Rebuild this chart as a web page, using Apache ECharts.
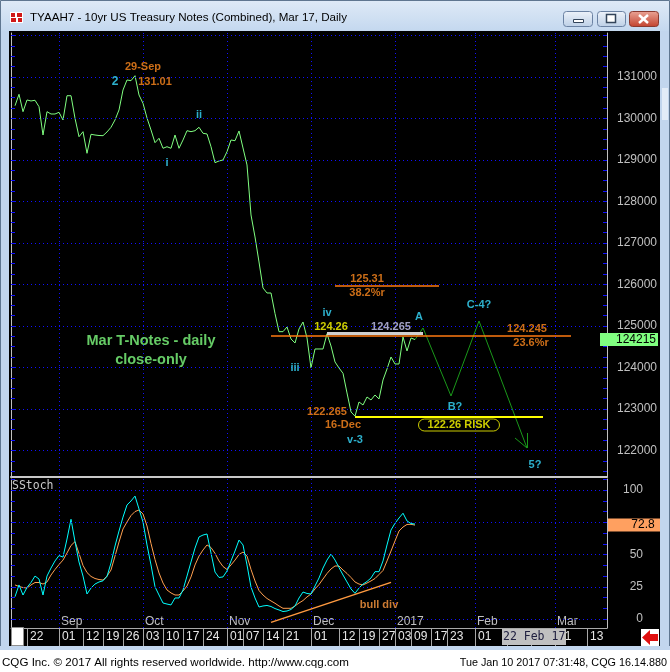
<!DOCTYPE html>
<html><head><meta charset="utf-8">
<script src="https://cdn.jsdelivr.net/npm/echarts@6/dist/echarts.min.js"></script>
<style>html,body{margin:0;padding:0;background:#000;overflow:hidden}#c{width:670px;height:672px}</style>
</head><body><div id="c"></div>
<script>
// ---------- DATA ----------
const categories = [
'2016-08-16','2016-08-17','2016-08-18','2016-08-19','2016-08-22','2016-08-23','2016-08-24','2016-08-25','2016-08-26','2016-08-29','2016-08-30','2016-08-31',
'2016-09-01','2016-09-02','2016-09-06','2016-09-07','2016-09-08','2016-09-09','2016-09-12','2016-09-13','2016-09-14','2016-09-15','2016-09-16','2016-09-19','2016-09-20','2016-09-21','2016-09-22','2016-09-23','2016-09-26','2016-09-27','2016-09-28','2016-09-29','2016-09-30',
'2016-10-03','2016-10-04','2016-10-05','2016-10-06','2016-10-07','2016-10-10','2016-10-11','2016-10-12','2016-10-13','2016-10-14','2016-10-17','2016-10-18','2016-10-19','2016-10-20','2016-10-21','2016-10-24','2016-10-25','2016-10-26','2016-10-27','2016-10-28','2016-10-31',
'2016-11-01','2016-11-02','2016-11-03','2016-11-04','2016-11-07','2016-11-08','2016-11-09','2016-11-10','2016-11-11','2016-11-14','2016-11-15','2016-11-16','2016-11-17','2016-11-18','2016-11-21','2016-11-22','2016-11-23','2016-11-25','2016-11-28','2016-11-29','2016-11-30',
'2016-12-01','2016-12-02','2016-12-05','2016-12-06','2016-12-07','2016-12-08','2016-12-09','2016-12-12','2016-12-13','2016-12-14','2016-12-15','2016-12-16','2016-12-19','2016-12-20','2016-12-21','2016-12-22','2016-12-23','2016-12-27','2016-12-28','2016-12-29','2016-12-30',
'2017-01-03','2017-01-04','2017-01-05','2017-01-06','2017-01-09','2017-01-10','2017-01-11','2017-01-12','2017-01-13','2017-01-17','2017-01-18','2017-01-19','2017-01-20','2017-01-23','2017-01-24','2017-01-25','2017-01-26','2017-01-27','2017-01-30','2017-01-31',
'2017-02-01','2017-02-02','2017-02-03','2017-02-06','2017-02-07','2017-02-08','2017-02-09','2017-02-10','2017-02-13','2017-02-14','2017-02-15','2017-02-16','2017-02-17','2017-02-20','2017-02-21','2017-02-22','2017-02-23','2017-02-24','2017-02-27','2017-02-28',
'2017-03-01','2017-03-02','2017-03-03','2017-03-06','2017-03-07','2017-03-08','2017-03-09','2017-03-10','2017-03-13','2017-03-14','2017-03-15','2017-03-16','2017-03-17','2017-03-20'
];

// daily closes, 2016-08-17 .. 2017-01-10 (decimal points)
const closes = [
130.308,130.583,130.164,130.446,130.422,130.439,130.284,129.602,130.164,130.108,
130.108,130.149,129.964,130.549,130.549,130.005,129.561,129.682,129.161,129.619,
129.602,129.590,129.586,129.675,129.788,129.964,130.205,130.687,130.928,130.911,
131.031,130.566,130.366,130.012,129.723,129.417,129.523,129.282,129.320,129.282,
129.602,129.282,129.482,129.706,129.682,129.706,129.788,129.643,129.627,129.320,
128.935,128.976,129.000,129.200,129.482,129.465,129.699,129.289,128.880,127.675,
127.145,126.542,125.916,125.795,125.795,125.300,124.863,124.863,124.976,124.687,
124.590,124.928,125.096,124.711,123.990,124.446,124.446,124.446,124.8125,124.518,
124.133,123.988,123.860,123.386,122.928,122.828,123.169,123.096,123.289,123.217,
123.337,123.241,123.699,123.964,124.253,124.084,124.084,124.735,124.398,124.711,
124.672
];
// slow stochastic, same dates
const stochK = [
17.3,26.4,18.6,24.5,28.3,33.3,31.0,18.6,33.3,39.5,
45.0,49.2,48.0,62.0,77.3,60.0,44.2,33.3,19.4,24.0,
27.1,28.7,29.6,33.0,43.4,56.6,68.2,79.0,88.4,91.5,
95.3,85.3,75.2,57.4,41.9,25.0,18.6,12.4,11.6,10.9,
16.3,16.3,22.5,33.3,44.2,55.0,63.6,65.1,65.9,51.2,
36.4,32.2,32.6,37.2,45.0,52.7,61.2,57.4,41.9,24.8,
16.3,9.3,10.1,10.5,9.7,8.1,7.0,5.8,6.2,7.4,
10.1,16.3,20.9,19.8,19.4,25.6,31.8,39.5,45.7,50.4,
45.7,39.9,34.1,28.7,23.3,19.9,24.0,27.1,29.1,31.8,
36.7,36.7,45.0,57.4,69.0,74.2,78.3,82.0,76.0,74.0,73.6
];
const stochD = [
26.4,25.2,24.4,24.0,26.4,28.3,28.3,27.1,28.7,34.1,
38.4,42.2,45.7,51.2,57.0,60.0,50.8,41.5,36.0,33.0,
31.4,30.6,30.2,33.3,38.0,48.8,59.7,69.8,75.2,80.2,
83.3,84.5,81.4,72.1,58.5,46.1,35.7,27.9,22.5,20.2,
18.6,18.6,21.7,25.6,32.6,41.9,48.8,53.5,57.4,55.4,
50.9,45.0,40.7,38.4,41.9,45.7,50.0,51.9,48.8,38.4,
29.5,22.1,18.6,15.9,14.0,12.2,10.1,8.3,8.3,8.3,
10.1,12.4,14.3,17.1,19.4,23.3,26.7,31.0,35.3,38.8,
41.1,41.1,38.0,35.3,32.2,28.7,27.1,26.4,27.9,29.5,
31.4,34.5,37.6,45.0,52.7,60.5,68.2,71.3,73.3,73.4,72.8
];

// projected wave path
const projDates  = ['2017-01-10','2017-01-12','2017-01-24','2017-02-02','2017-02-20'];
const projValues = [124.672, 124.952, 123.313, 125.120, 122.060];
const arrowFrom  = [['2017-02-15',122.301],['2017-02-20',122.422]];
const arrowTip   = ['2017-02-20',122.060];

// horizontal levels
const levelValues = [125.96875, 124.765625, 124.82, 122.8125];
const levelFrom   = ['2016-12-09','2016-11-16','2016-12-07','2016-12-16'];
const levelTo     = ['2017-01-19','2017-03-07','2017-01-12','2017-02-24'];

// bull divergence line on stochastic
const divFrom = ['2016-11-16', -2.6];
const divTo   = ['2016-12-30', 28.4];

// axis ticks
const priceTicks = [122,123,124,125,126,127,128,129,130,131];
const priceGrid  = [122,123,124,125,126,127,128,129,130,131,132];
const stochTicks = [0,25,50,100];
const stochGrid  = [0,25,50,75,100];
const monthStarts = ['2016-09-01','2016-10-03','2016-11-01','2016-12-01','2017-01-03','2017-02-01','2017-03-01'];
const monthNames  = ['Sep','Oct','Nov','Dec','2017','Feb','Mar'];
const dayMarks = ['2016-08-22','2016-09-01','2016-09-12','2016-09-19','2016-09-26','2016-10-03','2016-10-10','2016-10-17','2016-10-24',
  '2016-11-01','2016-11-07','2016-11-14','2016-11-21','2016-12-01','2016-12-12','2016-12-19','2016-12-27','2017-01-03','2017-01-09',
  '2017-01-17','2017-01-23','2017-02-01','2017-02-13','2017-02-21','2017-03-01','2017-03-13'];

// annotations: text, date, value, colour group
const noteTexts  = ['29-Sep','2','131.01','ii','i','Mar T-Notes - daily\nclose-only','125.31','38.2%r','iv','124.26','124.265','A','C-4?','124.245','23.6%r','iii','122.265','16-Dec','v-3','B?','122.26 RISK','5?'];
const noteDates  = ['2016-10-03','2016-09-22','2016-10-06','2016-10-21','2016-10-11','2016-10-05','2016-12-21','2016-12-21','2016-12-07','2016-12-08','2016-12-30','2017-01-11','2017-02-02','2017-02-20','2017-02-21','2016-11-25','2016-12-07','2016-12-13','2016-12-16','2017-01-25','2017-01-26','2017-02-22'];
const noteValues = [131.24,130.88,130.88,130.084,128.93,124.42,126.133,125.795,125.313,124.976,124.976,125.217,125.506,124.928,124.59,123.988,122.928,122.614,122.253,123.048,122.614,121.65];
const noteKinds  = ['orange','cyan','orange','cyan','cyan','green','orange','orange','cyan','yellow','grey','cyan','cyan','orange','orange','cyan','orange','orange','cyan','cyan','risk','cyan'];

// ---------- STYLE ----------
const COLORS = {orange:'#ff8a1e', cyan:'#38dcff', yellow:'#ffff00', grey:'#c8c8f0', green:'#80ff80', risk:'#ffff00'};
const blueDot = {color:'#1010ff', width:1, type:[1,3]};
const AX = '#c0c0c0';
const FONT = 'Liberation Sans, Arial, sans-serif';

function fmt32(v){
  const w = Math.floor(v + 1e-9);
  const t = Math.round((v - w) * 320);
  return String(w) + String(t).padStart(3,'0');
}
const PMAX = 132.06, PMIN = 121.361;
const SMAX = 108.53, SMIN = -6.97;
const quarterTicks = []; for (let v = 121.5; v <= 132.01; v += 0.25) quarterTicks.push(+v.toFixed(2));
const stochMinor = []; for (let k = 0; k <= 13; k++) stochMinor.push(+(k*25/3).toFixed(3));

const priceDates = categories.slice(1, 1 + closes.length);
const lastClose = closes[closes.length-1];
const lastD = stochD[stochD.length-1];
const lastCat = categories[categories.length-1];

const noteData = noteTexts.map((t,i) => {
  const k = noteKinds[i];
  const lab = {show:true, position:'inside', formatter:t, color:COLORS[k], fontFamily:FONT, fontWeight:'bold', fontSize:11};
  if (k === 'green') { lab.fontSize = 14.5; lab.lineHeight = 19; lab.align = 'center'; }
  if (k === 'risk') { lab.borderColor = '#ffff00'; lab.borderWidth = 1; lab.borderRadius = 8; lab.padding = [1,9,0,9]; }
  if (t === '2') lab.fontSize = 12;
  return {value:[noteDates[i], noteValues[i]], label:lab};
});

const levelStyles = [
  {color:'#ff7a10', width:1.5, type:'solid'},
  {color:'#ff7a10', width:1.5, type:'solid'},
  {color:'#d0d0d0', width:3, type:'solid'},
  {color:'#ffff00', width:2, type:'solid'}
];

const chart = echarts.init(document.getElementById('c'), null, {renderer:'canvas'});

const xBase = {type:'category', data:categories, boundaryGap:false};
const option = {
  animation:false,
  backgroundColor:'#000',
  grid:[{left:11,right:63,top:33,height:444},{left:11,right:63,top:479,height:149}],
  xAxis:[
    Object.assign({gridIndex:0}, xBase, {
      axisLine:{show:true,onZero:false,lineStyle:{color:'#c8c8c8',width:2}},
      axisTick:{show:false}, axisLabel:{show:false},
      splitLine:{show:true, interval:(i,v)=>monthStarts.includes(v), lineStyle:blueDot}}),
    Object.assign({gridIndex:1}, xBase, {
      axisLine:{show:true,onZero:false,lineStyle:{color:'#a8a8a8',width:1}},
      axisTick:{show:true, interval:(i,v)=>dayMarks.includes(v), length:18, lineStyle:{color:'#a8a8a8'}},
      axisLabel:{show:true, interval:(i,v)=>dayMarks.includes(v), formatter:v=>v.slice(8), align:'left',
        padding:[0,0,0,3], margin:3, color:'#e8e8e8', fontFamily:FONT, fontSize:12},
      splitLine:{show:true, interval:(i,v)=>monthStarts.includes(v), lineStyle:blueDot}}),
    Object.assign({gridIndex:1}, xBase, {
      position:'bottom',
      axisLine:{show:false,onZero:false}, axisTick:{show:false}, splitLine:{show:false},
      axisLabel:{show:true, inside:true, interval:(i,v)=>monthStarts.includes(v),
        formatter:v=>monthNames[monthStarts.indexOf(v)] || '', align:'left', padding:[0,0,0,2], margin:0,
        color:AX, fontFamily:FONT, fontSize:12}})
  ],
  yAxis:[
    {gridIndex:0, position:'left', min:PMIN, max:PMAX,
      axisLine:{show:true,lineStyle:{color:AX,width:1}},
      axisTick:{show:true,inside:true,length:4,customValues:quarterTicks,lineStyle:{color:'#1010ff'}},
      axisLabel:{show:false}, splitLine:{show:false}},
    {gridIndex:0, position:'right', min:PMIN, max:PMAX,
      axisLine:{show:true,lineStyle:{color:AX,width:1}},
      axisTick:{show:true,inside:true,length:4,customValues:quarterTicks,lineStyle:{color:'#1010ff'}},
      axisLabel:{show:true, customValues:priceTicks, formatter:fmt32, align:'right', margin:50, color:AX, fontFamily:FONT, fontSize:12},
      splitLine:{show:false}},
    {gridIndex:1, position:'left', min:SMIN, max:SMAX,
      axisLine:{show:true,lineStyle:{color:AX,width:1}},
      axisTick:{show:true,inside:true,length:4,customValues:stochMinor,lineStyle:{color:'#1010ff'}},
      axisLabel:{show:false}, splitLine:{show:false}},
    {gridIndex:1, position:'right', min:SMIN, max:SMAX,
      axisLine:{show:true,lineStyle:{color:AX,width:1}},
      axisTick:{show:true,inside:true,length:4,customValues:stochMinor,lineStyle:{color:'#1010ff'}},
      axisLabel:{show:true, customValues:stochTicks, align:'right', margin:36, color:AX, fontFamily:FONT, fontSize:12},
      splitLine:{show:false}}
  ],
  series:[
    {name:'price grid', type:'line', xAxisIndex:0, yAxisIndex:0, data:[], z:1, silent:true,
      markLine:{silent:true, symbol:['none','none'], label:{show:false}, lineStyle:blueDot, animation:false,
        data:priceGrid.map(v=>({yAxis:v}))}},
    {name:'levels', type:'line', xAxisIndex:0, yAxisIndex:0, data:[], z:2, silent:true,
      markLine:{silent:true, symbol:['none','none'], label:{show:false}, lineStyle:{type:'solid'}, animation:false,
        data:levelValues.map((v,i)=>[{coord:[levelFrom[i],v], lineStyle:levelStyles[i]},{coord:[levelTo[i],v]}])}},
    {name:'close', type:'line', xAxisIndex:0, yAxisIndex:0, z:4, clip:false,
      data:closes.map((v,i)=>[priceDates[i], v]), symbol:'none', lineStyle:{color:'#80ff80', width:1},
      markPoint:{symbol:'rect', symbolSize:[58,13], symbolOffset:[22,0], itemStyle:{color:'#80ff80'}, animation:false,
        label:{show:true, position:'inside', offset:[7,0], formatter:()=>fmt32(lastClose), color:'#000', fontFamily:FONT, fontSize:12},
        data:[{coord:[lastCat, lastClose]}]}},
    {name:'projection', type:'line', xAxisIndex:0, yAxisIndex:0, z:3,
      data:projDates.map((d,i)=>[d, projValues[i]]), symbol:'none', lineStyle:{color:'#1a981a', width:1},
      markLine:{silent:true, symbol:['none','none'], label:{show:false}, lineStyle:{color:'#1a981a', width:1, type:'solid'}, animation:false,
        data:arrowFrom.map(p=>[{coord:p},{coord:arrowTip}])}},
    {name:'notes', type:'scatter', xAxisIndex:0, yAxisIndex:0, z:6, symbolSize:1, itemStyle:{color:'rgba(0,0,0,0)'},
      data:noteData},
    {name:'stoch grid', type:'line', xAxisIndex:1, yAxisIndex:2, data:[], z:1, silent:true,
      markLine:{silent:true, symbol:['none','none'], label:{show:false}, lineStyle:blueDot, animation:false,
        data:stochGrid.map(v=>({yAxis:v}))}},
    {name:'%D', type:'line', xAxisIndex:1, yAxisIndex:2, z:3, clip:false,
      data:stochD.map((v,i)=>[priceDates[i], v]), symbol:'none', lineStyle:{color:'#ffa050', width:1},
      markLine:{silent:true, symbol:['none','none'], label:{show:false}, lineStyle:{color:'#ff9a40', width:1.5, type:'solid'}, animation:false,
        data:[[{coord:divFrom},{coord:divTo}]]},
      markPoint:{symbol:'rect', symbolSize:[52,13], symbolOffset:[27,0], itemStyle:{color:'#ffa060'}, animation:false,
        label:{show:true, position:'inside', offset:[9,0], formatter:()=>lastD.toFixed(1), color:'#000', fontFamily:FONT, fontSize:12},
        data:[{coord:[lastCat, lastD]}]}},
    {name:'%K', type:'line', xAxisIndex:1, yAxisIndex:2, z:4,
      data:stochK.map((v,i)=>[priceDates[i], v]), symbol:'none', lineStyle:{color:'#00ffff', width:1}},
    {name:'stoch notes', type:'scatter', xAxisIndex:1, yAxisIndex:2, z:6, symbolSize:1, itemStyle:{color:'rgba(0,0,0,0)'},
      data:[{value:['2016-12-27',10.9], label:{show:true, position:'inside', formatter:'bull div', color:'#ff9a40', fontFamily:FONT, fontWeight:'bold', fontSize:11}}]}
  ],
  graphic:[
    {type:'rect', z:100, shape:{x:0,y:0,width:9,height:672}, style:{fill:'#c2d6ee'}},
    {type:'rect', z:100, shape:{x:660,y:0,width:10,height:672}, style:{fill:'#c2d6ee'}},
    {type:'rect', z:100, shape:{x:662,y:88,width:6,height:32}, style:{fill:'#e2ecf8'}},
    {type:'rect', z:100, shape:{x:0,y:0,width:670,height:31},
      style:{fill:new echarts.graphic.LinearGradient(0,0,0,1,[{offset:0,color:'#dfeaf7'},{offset:1,color:'#c4d8ef'}])}},
    {type:'rect', z:100, shape:{x:0.5,y:0.5,width:669,height:671}, style:{fill:null, stroke:'#5f7690', lineWidth:1}},
    {type:'rect', z:101, shape:{x:10,y:12,width:13,height:11}, style:{fill:'#ffffff'}},
    {type:'rect', z:102, shape:{x:11,y:13,width:4,height:4}, style:{fill:'#d01818'}},
    {type:'rect', z:102, shape:{x:17,y:13,width:5,height:4}, style:{fill:'#d01818'}},
    {type:'rect', z:102, shape:{x:11,y:18,width:5,height:4}, style:{fill:'#d01818'}},
    {type:'rect', z:102, shape:{x:18,y:18,width:4,height:4}, style:{fill:'#d01818'}},
    {type:'text', z:101, style:{x:30,y:18,text:'TYAAH7 - 10yr US Treasury Notes (Combined), Mar 17, Daily', fill:'#000', font:'11.6px Liberation Sans', textVerticalAlign:'middle'}},
    {type:'rect', z:101, shape:{x:563.5,y:11.5,width:29,height:15,r:3},
      style:{fill:new echarts.graphic.LinearGradient(0,0,0,1,[{offset:0,color:'#eef3fa'},{offset:1,color:'#bccfe6'}]), stroke:'#6b82a3'}},
    {type:'rect', z:102, shape:{x:573.5,y:19.5,width:10,height:3}, style:{fill:'#fff', stroke:'#33445a'}},
    {type:'rect', z:101, shape:{x:597.5,y:11.5,width:28,height:15,r:3},
      style:{fill:new echarts.graphic.LinearGradient(0,0,0,1,[{offset:0,color:'#eef3fa'},{offset:1,color:'#bccfe6'}]), stroke:'#6b82a3'}},
    {type:'rect', z:102, shape:{x:606.5,y:14.5,width:9,height:8}, style:{fill:'#fff', stroke:'#33445a', lineWidth:1.5}},
    {type:'rect', z:101, shape:{x:629.5,y:11.5,width:29,height:15,r:3},
      style:{fill:new echarts.graphic.LinearGradient(0,0,0,1,[{offset:0,color:'#eaa597'},{offset:1,color:'#c2412d'}]), stroke:'#8a3a30'}},
    {type:'line', z:102, shape:{x1:639,y1:15,x2:648,y2:23}, style:{stroke:'#fff', lineWidth:2.5}},
    {type:'line', z:102, shape:{x1:648,y1:15,x2:639,y2:23}, style:{stroke:'#fff', lineWidth:2.5}},
    {type:'rect', z:100, shape:{x:0,y:646,width:670,height:4}, style:{fill:'#c2d6ee'}},
    {type:'rect', z:100, shape:{x:0,y:650,width:670,height:22}, style:{fill:'#ffffff'}},
    {type:'text', z:101, style:{x:2,y:663,text:'CQG Inc. \u00a9 2017 All rights reserved worldwide. http://www.cqg.com', fill:'#000', font:'11.6px Liberation Sans', textVerticalAlign:'middle'}},
    {type:'text', z:101, style:{x:667,y:663,text:'Tue Jan 10 2017 07:31:48, CQG 16.14.880', fill:'#000', font:'10.8px Liberation Sans', textAlign:'right', textVerticalAlign:'middle'}},
    {type:'text', z:101, style:{x:12,y:480,text:'SStoch', fill:'#c8c8c8', font:'11.5px DejaVu Sans Mono'}},
    {type:'rect', z:101, shape:{x:11.5,y:627.5,width:12,height:18}, style:{fill:'#ffffff', stroke:'#909090'}},
    {type:'rect', z:101, shape:{x:502,y:629,width:64,height:16}, style:{fill:'#c0c0c0'}},
    {type:'text', z:102, style:{x:503,y:637,text:'22 Feb 17', fill:'#202040', font:'11.5px DejaVu Sans Mono', textVerticalAlign:'middle'}},
    {type:'rect', z:101, shape:{x:641,y:629,width:18,height:17}, style:{fill:'#ffffff'}},
    {type:'polygon', z:102, shape:{points:[[642,637.5],[650,630],[650,634],[658,634],[658,641],[650,641],[650,645]]}, style:{fill:'#e01010'}}
  ]
};
chart.setOption(option);
</script>
</body></html>
